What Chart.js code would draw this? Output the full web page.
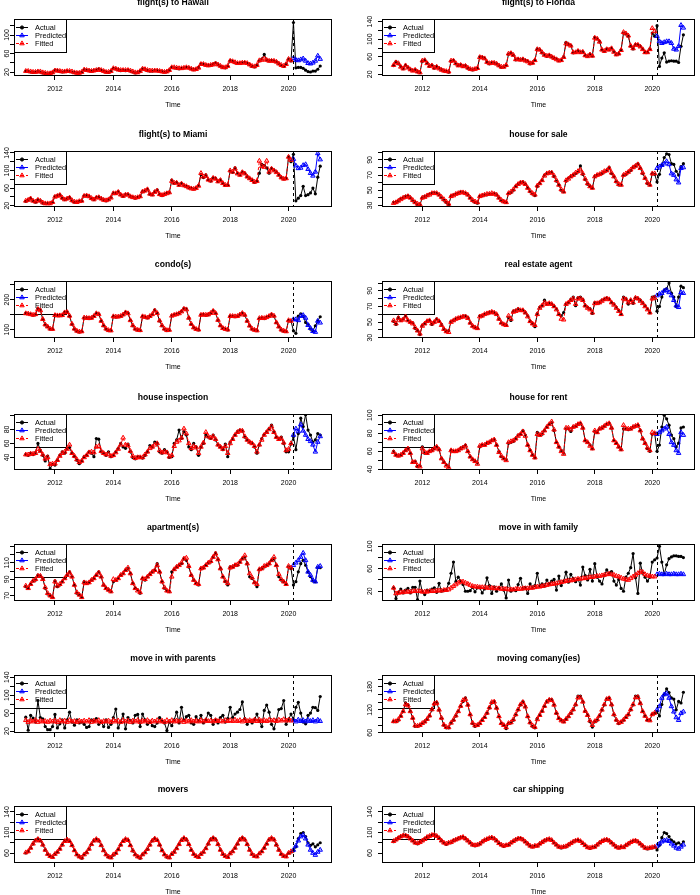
<!DOCTYPE html>
<html>
<head>
<meta charset="utf-8">
<script src="https://cdn.jsdelivr.net/npm/chart.js@4.4.1/dist/chart.umd.min.js"></script>
<style>
  html, body { margin: 0; padding: 0; background: #fff; }
  body { width: 700px; height: 895px; position: relative; overflow: hidden; }
  .panel { position: absolute; }
</style>
</head>
<body>
<script>
// monthly series, Jan 2011 .. Feb 2021 (actual), Jan 2011 .. Feb 2020 (fitted), Mar 2020 .. Feb 2021 (predicted)
var startYear = 2011;
var forecastStart = 110;            // index of Mar 2020
var xTickYears = [2012, 2014, 2016, 2018, 2020];

var hawaiiActual = [
  22,21,20,19,20,21,20,18,17,16,17,19,
  24,23,21,20,21,22,21,20,19,18,18,20,
  25,24,23,22,23,24,27,24,22,20,19,22,
  28,27,25,23,24,23,24,22,20,18,19,22,
  27,25,23,22,22,23,23,22,21,20,21,24,
  30,29,28,27,28,29,30,29,27,25,26,30,
  38,37,35,34,35,37,40,36,33,30,29,33,
  45,43,40,39,39,40,41,39,36,32,31,35,
  44,48,58,46,44,45,44,42,38,34,32,38,
  48,44,127,29,30,30,28,24,21,20,22,22,
  26,33];
var hawaiiFitted = [
  22,22,21,20,20,21,21,19,18,17,17,19,
  23,23,22,21,21,22,22,21,19,18,18,20,
  25,24,23,22,23,24,25,24,22,20,20,22,
  28,27,25,24,24,24,24,23,21,19,19,22,
  27,26,24,23,23,23,23,22,21,20,21,24,
  30,30,29,28,28,29,30,29,27,25,26,29,
  37,37,35,34,35,36,38,36,33,30,30,33,
  44,43,41,39,39,40,40,39,36,33,32,35,
  45,46,49,46,44,44,44,42,38,35,33,37,
  48,45];
var hawaiiPredicted = [50,46,45,47,49,44,39,38,40,44,55,48];

var floridaActual = [
  40,49,44,38,33,41,36,31,29,31,26,24,
  50,53,46,38,41,34,38,34,31,28,27,25,
  50,52,44,40,42,38,40,34,32,30,32,34,
  60,59,57,48,44,47,46,44,40,36,37,40,
  66,69,64,53,55,53,55,52,50,44,46,52,
  78,76,69,65,61,64,60,57,55,51,52,60,
  93,88,86,69,70,74,70,72,63,61,66,62,
  104,101,95,76,72,78,76,80,72,65,67,76,
  114,112,107,84,78,88,88,84,78,70,70,78,
  114,107,131,38,57,69,48,50,51,50,50,47,
  84,110];
var floridaFitted = [
  41,47,45,37,33,40,35,31,28,30,26,24,
  51,52,45,39,40,35,37,33,30,28,27,26,
  51,51,45,40,41,38,39,35,32,31,32,34,
  59,58,56,48,45,46,46,44,40,37,37,41,
  67,68,64,54,54,53,54,51,49,45,46,52,
  77,76,70,64,62,63,60,57,54,51,52,59,
  90,88,85,70,70,73,70,71,63,61,65,62,
  103,101,94,76,73,77,76,79,71,65,67,75,
  116,113,108,85,79,87,87,83,77,70,70,77,
  125,118];
var floridaPredicted = [107,95,91,93,95,95,91,78,76,84,132,126];

var miamiActual = [
  30,33,37,31,28,34,31,26,25,25,25,28,
  41,43,45,37,34,36,39,31,28,28,30,31,
  43,43,41,36,34,39,40,36,33,31,34,39,
  49,48,52,45,41,45,46,41,39,37,39,41,
  52,54,58,46,45,52,56,46,43,46,49,50,
  78,71,73,67,71,66,64,61,60,58,61,66,
  91,84,90,79,76,84,82,75,79,71,66,67,
  99,96,106,94,90,97,94,86,82,79,73,76,
  94,114,112,106,94,105,101,97,90,84,81,82,
  131,120,137,31,37,43,64,43,45,49,60,47,
  85,110];
var miamiFitted = [
  31,33,36,31,29,33,31,27,25,25,25,28,
  40,42,44,38,34,36,38,32,29,28,30,31,
  42,43,41,37,34,38,39,36,33,32,34,38,
  48,48,51,45,42,45,45,41,39,38,39,41,
  52,54,57,47,45,51,54,46,44,46,48,50,
  76,72,72,67,70,66,64,61,59,58,60,65,
  94,86,88,79,77,83,81,75,78,71,67,67,
  100,97,104,93,90,96,93,86,82,78,74,76,
  122,110,108,122,97,104,100,96,90,84,81,82,
  131,124];
var miamiPredicted = [126,111,105,106,112,114,103,94,88,97,139,125];

var saleActual = [
  34,34,36,39,40,42,43,40,36,34,31,31,
  40,42,43,45,46,47,46,44,40,37,34,31,
  42,44,45,46,48,47,46,44,40,36,34,33,
  42,43,44,44,45,45,46,44,40,36,35,34,
  46,47,50,55,58,60,61,58,53,48,45,43,
  55,59,63,70,72,73,74,68,62,57,50,48,
  62,66,68,70,72,74,82,71,64,58,55,53,
  68,70,71,72,74,76,80,72,68,61,57,57,
  70,71,74,76,80,82,85,79,72,66,59,57,
  72,71,61,71,83,93,98,97,85,84,75,70,
  81,85];
var saleFitted = [
  33,34,36,38,40,41,42,40,37,34,32,31,
  40,41,43,44,46,46,46,44,41,38,35,32,
  42,43,45,46,47,47,46,44,40,37,35,34,
  42,43,44,45,45,46,45,44,40,37,35,34,
  46,48,51,55,58,60,60,58,53,49,46,44,
  56,59,63,69,72,73,73,69,63,57,51,48,
  63,65,68,70,73,75,77,72,65,59,55,53,
  68,70,71,73,75,76,79,73,68,62,58,57,
  70,72,74,77,80,82,84,79,73,66,60,57,
  72,72];
var salePredicted = [79,81,83,85,88,84,72,70,64,60,79,80];

var condoActual = [
  155,153,152,148,150,171,166,134,116,110,102,102,
  147,147,147,147,158,159,145,118,102,95,92,94,
  139,139,137,139,145,155,152,129,113,102,97,97,
  145,142,143,145,150,158,155,131,113,102,99,97,
  145,142,139,145,150,166,155,129,113,102,97,99,
  147,150,152,155,161,171,169,139,118,107,102,99,
  150,150,148,150,155,163,155,131,113,105,102,99,
  145,145,143,145,150,155,148,129,113,102,99,97,
  137,139,137,142,145,150,145,123,110,99,95,94,
  131,129,96,88,145,153,145,124,118,102,97,113,
  129,143];
var condoFitted = [
  154,153,151,149,151,168,164,135,117,110,103,102,
  148,147,147,148,157,158,146,119,103,96,93,94,
  140,139,138,139,145,154,151,129,114,103,98,97,
  144,143,143,145,150,157,154,131,114,103,99,98,
  144,142,140,145,151,163,155,130,114,103,98,99,
  146,149,151,154,160,169,167,139,119,107,102,100,
  149,150,149,150,155,162,155,132,114,105,102,100,
  145,145,144,145,150,155,149,129,113,103,99,97,
  138,139,138,141,145,150,146,124,110,100,96,94,
  131,129];
var condoPredicted = [134,134,131,145,148,139,115,105,95,92,129,123];

var agentActual = [
  51,47,56,52,54,58,52,50,49,42,39,34,
  46,48,51,52,47,50,54,51,47,41,38,39,
  51,52,54,55,56,57,58,56,49,45,43,42,
  58,58,60,61,62,63,62,60,54,49,47,46,
  56,52,64,65,67,65,65,62,58,51,48,44,
  61,69,71,78,73,74,73,70,67,60,58,62,
  73,75,79,82,71,81,82,79,71,69,67,61,
  75,74,75,78,79,81,79,75,73,69,65,60,
  82,80,73,78,74,81,80,78,75,71,67,62,
  82,83,64,70,82,91,93,100,87,82,70,82,
  96,94];
var agentFitted = [
  52,48,55,52,53,57,52,50,48,43,39,35,
  45,48,51,52,48,50,53,51,46,41,38,37,
  50,52,54,55,56,57,57,55,49,45,43,42,
  57,58,60,61,62,63,62,60,54,49,47,46,
  58,54,63,64,66,65,65,62,57,51,48,46,
  60,68,71,75,73,74,73,70,66,60,54,53,
  73,75,78,80,73,80,80,78,71,68,66,62,
  74,74,75,77,79,80,79,75,72,68,64,60,
  80,79,75,78,75,81,80,77,74,70,66,62,
  80,81];
var agentPredicted = [84,86,87,90,91,88,84,78,71,69,88,87];

var inspectionActual = [
  44,43,46,44,47,60,50,43,35,42,24,30,
  29,36,43,48,46,53,54,46,41,36,31,35,
  41,43,48,46,41,67,66,48,46,43,48,41,
  43,48,53,60,55,53,59,48,40,38,41,40,
  39,43,48,57,55,62,60,48,46,51,48,40,
  41,60,65,79,67,77,72,55,51,60,55,43,
  55,60,72,69,67,72,65,58,55,51,59,41,
  62,67,72,77,79,78,69,65,62,60,55,46,
  58,67,73,77,81,86,77,69,67,69,60,48,
  48,59,70,51,74,96,84,101,79,72,62,65,
  74,72];
var inspectionFitted = [
  44,44,45,45,46,52,49,44,38,40,30,31,
  31,36,42,46,48,52,58,46,42,37,33,35,
  40,43,47,48,47,55,56,49,46,44,45,42,
  43,47,52,58,68,58,57,49,42,39,40,40,
  40,44,48,53,55,58,60,50,47,48,47,41,
  43,56,62,64,68,81,74,60,53,56,54,46,
  55,61,76,70,68,70,66,58,55,52,56,46,
  60,66,72,76,78,78,70,65,62,60,56,48,
  58,65,72,76,80,84,76,69,66,67,61,50,
  52,60];
var inspectionPredicted = [72,81,77,87,78,72,66,63,58,48,62,70];

var rentActual = [
  60,56,55,56,58,61,63,58,48,49,43,44,
  65,58,58,60,61,63,65,62,52,48,45,43,
  61,60,60,61,63,65,67,60,54,51,49,47,
  65,67,67,69,70,72,73,67,60,54,52,51,
  69,70,71,74,78,79,83,78,67,61,56,53,
  81,78,79,83,87,90,92,83,70,65,61,58,
  85,85,82,87,88,90,91,86,72,70,67,63,
  82,81,85,86,88,90,91,86,72,69,65,62,
  85,85,84,85,87,88,89,83,74,69,63,60,
  79,80,60,67,87,100,96,89,78,74,65,69,
  86,87];
var rentFitted = [
  59,56,55,56,58,61,63,58,48,48,44,43,
  63,59,58,60,61,63,65,62,52,48,44,42,
  61,60,60,61,63,64,66,60,54,51,49,46,
  66,67,67,69,70,72,73,67,59,55,52,50,
  70,71,72,74,77,79,82,77,67,61,56,53,
  79,78,80,83,87,90,93,84,70,65,60,57,
  86,86,84,87,88,90,91,86,72,70,66,63,
  83,81,85,86,88,90,91,86,72,69,65,62,
  89,85,85,85,87,88,89,83,74,69,64,61,
  81,80];
var rentPredicted = [79,81,83,85,87,79,70,67,61,58,81,78];

var apartmentActual = [
  81,79,84,88,89,95,94,91,79,72,70,68,
  88,81,83,87,91,95,99,93,83,73,71,68,
  87,85,86,89,91,95,99,93,83,79,77,75,
  87,89,91,95,97,101,103,97,85,79,77,73,
  91,89,93,96,99,101,109,99,87,79,76,75,
  99,102,105,107,109,115,113,105,95,89,85,83,
  103,104,107,110,111,117,122,114,103,93,87,83,
  105,105,107,107,111,115,117,109,93,91,86,81,
  102,103,105,107,109,113,115,107,93,89,87,84,
  105,103,83,87,99,109,113,107,99,93,88,87,
  104,104];
var apartmentFitted = [
  82,79,84,88,90,94,94,90,80,73,70,68,
  87,82,84,87,91,95,98,93,83,74,71,68,
  86,85,86,89,91,95,98,93,83,79,77,75,
  90,89,91,95,97,101,104,97,85,79,76,74,
  91,90,93,96,99,101,107,99,87,80,76,75,
  93,102,105,107,110,115,116,106,95,89,85,84,
  103,104,107,110,112,117,121,114,103,93,88,85,
  104,105,107,108,111,115,119,109,97,92,86,84,
  102,103,106,107,109,113,117,107,96,90,87,84,
  106,104];
var apartmentPredicted = [107,110,113,117,122,113,99,95,89,87,105,106];

var familyActual = [
  26,7,18,24,17,22,25,17,27,27,5,38,
  19,14,22,20,24,26,18,34,20,21,22,34,
  52,72,37,45,38,32,20,20,21,27,19,26,
  26,17,24,44,30,16,28,20,26,33,22,8,
  40,20,23,21,32,43,24,27,16,33,26,30,
  52,30,33,29,40,33,38,41,22,47,30,38,
  54,36,50,43,37,41,31,63,48,40,59,38,
  69,45,38,33,48,58,52,55,38,31,41,25,
  20,45,52,62,87,44,16,70,52,45,38,45,
  72,76,79,100,72,50,67,78,81,83,83,82,
  82,80];
var familyFitted = [
  26,16,17,18,18,19,19,19,20,20,20,20,
  19,19,19,20,20,20,21,21,21,22,22,23,
  26,29,32,35,37,37,35,33,31,29,28,28,
  27,27,27,26,26,26,25,25,25,24,24,24,
  23,23,23,24,24,24,25,25,25,26,26,27,
  28,28,29,30,31,32,33,33,34,35,36,37,
  38,39,39,40,41,42,42,43,43,44,45,45,
  46,47,47,48,49,50,51,50,49,47,46,44,
  42,41,40,43,46,49,52,55,54,50,48,47,
  46,46];
var familyPredicted = [50,51,50,50,51,50,50,51,50,50,51,50];

var parentsActual = [
  51,22,55,49,40,88,50,47,30,23,23,30,
  57,27,36,45,27,45,62,40,33,45,38,40,
  35,28,30,45,42,48,35,40,30,45,28,35,
  50,69,27,40,58,25,50,44,38,55,57,30,
  58,45,35,40,32,30,38,50,42,38,21,40,
  32,45,62,38,73,44,52,55,38,35,52,42,
  55,38,45,60,55,35,45,38,50,55,40,48,
  73,50,58,62,68,85,48,35,42,38,45,58,
  42,30,66,78,62,35,25,45,68,70,88,35,
  45,58,45,73,84,60,40,36,55,60,73,72,
  66,97];
var parentsFitted = [
  44,40,43,41,44,40,43,41,42,40,43,41,
  43,40,44,41,43,40,44,41,42,40,43,41,
  43,41,44,40,43,41,44,40,42,41,43,40,
  44,41,43,40,44,41,43,40,43,41,44,40,
  43,41,44,40,43,41,44,41,43,40,44,41,
  44,41,43,41,44,40,43,41,44,41,43,41,
  44,41,44,42,43,41,44,42,43,41,44,42,
  44,42,45,42,44,41,45,42,44,42,45,42,
  45,42,44,42,45,43,44,42,45,43,46,43,
  45,43];
var parentsPredicted = [44,41,45,42,44,41,45,42,44,41,45,42];

var movingCoActual = [
  89,89,93,104,116,138,133,116,98,77,77,80,
  84,89,95,104,120,136,140,120,98,80,73,73,
  86,93,104,116,129,142,151,133,107,84,77,80,
  84,93,100,111,125,138,142,125,102,84,80,71,
  84,86,93,107,120,133,142,129,102,86,77,73,
  98,107,116,129,142,147,147,133,111,98,93,89,
  95,102,111,120,133,156,156,142,116,107,89,75,
  89,93,104,120,133,149,151,133,107,93,84,89,
  93,100,107,120,133,156,156,138,116,104,93,93,
  109,111,116,104,134,160,175,165,151,148,120,142,
  138,166];
var movingCoFitted = [
  90,90,95,104,116,134,131,116,99,79,78,80,
  85,89,96,105,121,136,138,120,99,81,75,74,
  86,94,105,116,130,145,148,133,108,86,79,80,
  85,93,101,112,126,140,141,125,103,85,80,74,
  85,87,95,108,121,134,140,128,103,87,79,75,
  95,106,117,130,141,146,145,133,112,98,92,89,
  96,103,112,121,134,152,152,141,117,106,92,80,
  90,95,105,120,134,148,150,134,108,94,86,88,
  94,101,108,121,134,152,153,137,116,104,94,92,
  108,112];
var movingCoPredicted = [120,129,151,160,163,151,129,115,100,93,111,115];

var moversActual = [
  60,63,70,78,85,88,84,76,66,58,54,52,
  58,62,68,76,83,86,83,75,65,57,53,50,
  57,61,68,77,84,87,84,75,65,57,52,51,
  56,60,67,76,83,87,85,75,64,57,53,50,
  57,61,67,76,84,88,85,76,65,57,52,51,
  58,62,69,77,85,89,86,77,66,58,54,52,
  58,62,69,78,86,90,87,77,66,58,54,52,
  59,63,70,78,86,90,86,77,66,58,54,53,
  59,63,70,78,86,89,86,76,66,58,54,53,
  60,62,64,72,88,98,100,92,80,75,78,72,
  76,80];
var moversFitted = [
  61,63,70,78,84,87,84,76,66,58,54,52,
  58,62,68,76,83,86,83,75,65,57,53,51,
  57,61,68,77,84,87,84,75,65,57,53,51,
  57,60,67,76,83,87,85,75,65,57,53,51,
  57,61,68,76,84,88,85,76,65,57,53,51,
  58,62,69,77,85,89,86,77,66,58,54,52,
  58,62,69,78,86,89,86,77,66,58,54,52,
  59,63,70,78,86,89,86,77,66,58,54,53,
  59,63,70,78,86,89,86,76,66,58,54,53,
  60,63];
var moversPredicted = [66,74,84,92,95,88,76,66,60,56,62,66];

var carActual = [
  82,86,90,92,94,95,92,88,84,80,78,82,
  84,88,91,93,95,96,93,89,84,80,77,80,
  80,84,86,88,90,91,88,84,80,76,74,76,
  78,82,85,87,89,90,88,84,79,76,73,75,
  76,80,83,86,88,89,86,82,78,74,72,74,
  74,78,81,84,86,87,85,80,76,72,70,72,
  72,76,79,82,84,85,83,79,75,71,69,71,
  72,76,80,83,85,86,84,80,76,72,70,72,
  71,75,78,81,83,84,82,78,74,70,68,70,
  70,72,66,75,90,100,98,92,85,82,78,80,
  76,82];
var carFitted = [
  83,86,89,92,94,94,92,88,84,80,79,81,
  84,87,91,93,95,95,93,89,84,80,78,80,
  81,84,86,88,90,91,88,84,80,76,75,76,
  78,82,85,87,89,90,88,84,79,76,74,75,
  76,80,83,86,88,88,86,82,78,74,72,74,
  74,78,81,84,86,87,85,80,76,72,71,72,
  73,76,79,82,84,85,83,79,75,71,70,71,
  72,76,80,83,85,86,84,80,76,72,70,72,
  71,75,78,81,83,84,82,78,74,70,69,70,
  71,72];
var carPredicted = [74,78,82,84,85,83,78,74,70,68,72,76];

var panels = [
  { title: 'flight(s) to Hawaii', actual: hawaiiActual, fitted: hawaiiFitted, predicted: hawaiiPredicted,
    yMin: 11.4, yMax: 134.6, yTicks: [20,40,60,80,100,120], yLabels: [20,60,100] },
  { title: 'flight(s) to Florida', actual: floridaActual, fitted: floridaFitted, predicted: floridaPredicted,
    yMin: 16.2, yMax: 146.1, yTicks: [20,40,60,80,100,120,140], yLabels: [20,60,100,140] },
  { title: 'flight(s) to Miami', actual: miamiActual, fitted: miamiFitted, predicted: miamiPredicted,
    yMin: 17, yMax: 144.5, yTicks: [20,40,60,80,100,120,140], yLabels: [20,60,100,140] },
  { title: 'house for sale', actual: saleActual, fitted: saleFitted, predicted: salePredicted,
    yMin: 27.9, yMax: 101.7, yTicks: [30,40,50,60,70,80,90,100], yLabels: [30,50,70,90] },
  { title: 'condo(s)', actual: condoActual, fitted: condoFitted, predicted: condoPredicted,
    yMin: 72.3, yMax: 261.8, yTicks: [100,150,200,250], yLabels: [100,200] },
  { title: 'real estate agent', actual: agentActual, fitted: agentFitted, predicted: agentPredicted,
    yMin: 29.6, yMax: 102.6, yTicks: [30,40,50,60,70,80,90,100], yLabels: [30,50,70,90] },
  { title: 'house inspection', actual: inspectionActual, fitted: inspectionFitted, predicted: inspectionPredicted,
    yMin: 22, yMax: 102, yTicks: [40,60,80,100], yLabels: [40,60,80] },
  { title: 'house for rent', actual: rentActual, fitted: rentFitted, predicted: rentPredicted,
    yMin: 39.3, yMax: 101.4, yTicks: [40,50,60,70,80,90,100], yLabels: [40,60,80,100] },
  { title: 'apartment(s)', actual: apartmentActual, fitted: apartmentFitted, predicted: apartmentPredicted,
    yMin: 63.5, yMax: 132.9, yTicks: [70,80,90,100,110,120,130], yLabels: [70,90,110] },
  { title: 'move in with family', actual: familyActual, fitted: familyFitted, predicted: familyPredicted,
    yMin: 2.6, yMax: 104.1, yTicks: [20,40,60,80,100], yLabels: [20,60,100] },
  { title: 'move in with parents', actual: parentsActual, fitted: parentsFitted, predicted: parentsPredicted,
    yMin: 15.6, yMax: 145, yTicks: [20,40,60,80,100,120,140], yLabels: [20,60,100,140] },
  { title: 'moving comany(ies)', actual: movingCoActual, fitted: movingCoFitted, predicted: movingCoPredicted,
    yMin: 59.5, yMax: 211, yTicks: [60,80,100,120,140,160,180,200], yLabels: [60,120,180] },
  { title: 'movers', actual: moversActual, fitted: moversFitted, predicted: moversPredicted,
    yMin: 40.5, yMax: 151.7, yTicks: [60,80,100,120,140], yLabels: [60,100,140] },
  { title: 'car shipping', actual: carActual, fitted: carFitted, predicted: carPredicted,
    yMin: 40.5, yMax: 151.7, yTicks: [60,80,100,120,140], yLabels: [60,100,140] }
];

// layout of the R grid (pixels)
var rowBoxTop = [19, 151, 281, 414, 544, 675, 806];
var rowBoxH = [57, 56, 57, 56, 57, 58, 57];
var FONT = '"Liberation Sans", Arial, Helvetica, sans-serif';
var TITLE_H = 21, XAXIS_H = 36;

var measure = document.createElement('canvas').getContext('2d');
measure.font = '7px ' + FONT;
function widest(labels) {
  return Math.max.apply(null, labels.map(function (v) { return measure.measureText(String(v)).width; }));
}

function toPoints(vals, offset) {
  return vals.map(function (v, i) { return { x: startYear + (offset + i) / 12, y: v }; });
}

// box round the plot region
var framePlugin = {
  id: 'frame',
  afterDatasetsDraw: function (chart) {
    var a = chart.chartArea, ctx = chart.ctx;
    ctx.save();
    ctx.strokeStyle = '#000';
    ctx.lineWidth = 1;
    ctx.strokeRect(Math.round(a.left) + 0.5, Math.round(a.top) + 0.5,
      Math.round(a.right - a.left) - 1, Math.round(a.bottom - a.top) - 1);
    ctx.restore();
  }
};

// dashed line where the forecast begins
var cutPlugin = {
  id: 'cut',
  afterDatasetsDraw: function (chart) {
    var a = chart.chartArea, ctx = chart.ctx;
    var x = Math.round(chart.scales.x.getPixelForValue(startYear + forecastStart / 12)) + 0.5;
    ctx.save();
    ctx.strokeStyle = '#000';
    ctx.lineWidth = 1;
    ctx.setLineDash([3, 3]);
    ctx.beginPath();
    ctx.moveTo(x, a.top);
    ctx.lineTo(x, a.bottom);
    ctx.stroke();
    ctx.restore();
  }
};

// R style legend in the top-left corner
var legendItems = [
  { text: 'Actual', color: '#000000', fill: '#000000', style: 'circle', r: 1.6, dash: [] },
  { text: 'Predicted', color: '#0000ff', fill: 'rgba(0,0,255,0.3)', style: 'triangle', r: 2.6, dash: [] },
  { text: 'Fitted', color: '#ff0000', fill: 'rgba(255,0,0,0.3)', style: 'triangle', r: 2.6, dash: [3, 2] }
];
var legendPlugin = {
  id: 'rlegend',
  beforeDatasetsDraw: function (chart) {
    var a = chart.chartArea, ctx = chart.ctx;
    var x = Math.round(a.left), y = Math.round(a.top);
    ctx.save();
    ctx.strokeStyle = '#000';
    ctx.lineWidth = 1;
    ctx.strokeRect(x + 0.5, y + 0.5, 52, 33);
    legendItems.forEach(function (it, i) {
      var yy = y + 8.5 + i * 8;
      ctx.strokeStyle = it.color;
      ctx.setLineDash(it.dash);
      ctx.beginPath();
      ctx.moveTo(x + 2, yy);
      ctx.lineTo(x + 14, yy);
      ctx.stroke();
      ctx.setLineDash([]);
      ctx.fillStyle = it.fill;
      Chart.helpers.drawPoint(ctx, { pointStyle: it.style, radius: it.r, borderWidth: 1, rotation: 0 }, x + 8, yy);
      ctx.fillStyle = '#000';
      ctx.font = '7.4px ' + FONT;
      ctx.textBaseline = 'middle';
      ctx.textAlign = 'left';
      ctx.fillText(it.text, x + 21, yy);
    });
    ctx.restore();
  }
};

panels.forEach(function (p, idx) {
  var row = Math.floor(idx / 2), col = idx % 2;
  var boxLeft = col === 0 ? 14 : 32;
  var boxRight = col === 0 ? 332 : 349;
  var labelGap = col === 0 ? 7 : 12;
  var h = TITLE_H + rowBoxH[row] + XAXIS_H;

  var div = document.createElement('div');
  div.className = 'panel';
  div.style.left = (col * 350) + 'px';
  div.style.top = (rowBoxTop[row] - TITLE_H) + 'px';
  var canvas = document.createElement('canvas');
  canvas.width = 350;
  canvas.height = h;
  canvas.style.width = '350px';
  canvas.style.height = h + 'px';
  div.appendChild(canvas);
  document.body.appendChild(div);

  var yPad = labelGap - 4 - widest(p.yLabels) / 2;

  new Chart(canvas, {
    type: 'line',
    data: {
      datasets: [
        { label: 'Fitted', data: toPoints(p.fitted, 0), order: 1,
          borderColor: '#ff0000', borderWidth: 1, borderDash: [3, 2],
          pointStyle: 'triangle', pointRadius: 2.6, pointBorderWidth: 1,
          pointBorderColor: '#ff0000', pointBackgroundColor: 'rgba(255,0,0,0.2)' },
        { label: 'Predicted', data: toPoints(p.predicted, forecastStart), order: 2,
          borderColor: '#0000ff', borderWidth: 1,
          pointStyle: 'triangle', pointRadius: 2.6, pointBorderWidth: 1,
          pointBorderColor: '#0000ff', pointBackgroundColor: 'rgba(0,0,255,0.2)' },
        { label: 'Actual', data: toPoints(p.actual, 0), order: 3,
          borderColor: '#000000', borderWidth: 1,
          pointStyle: 'circle', pointRadius: 1.6, pointBorderWidth: 0,
          pointBackgroundColor: '#000000' }
      ]
    },
    options: {
      responsive: false,
      animation: false,
      devicePixelRatio: 1,
      events: [],
      layout: { padding: { left: 0, right: 350 - boxRight, top: 0, bottom: 0 } },
      elements: { line: { tension: 0 } },
      plugins: {
        legend: { display: false },
        tooltip: { enabled: false },
        title: {
          display: true, fullSize: false, text: p.title, color: '#000',
          font: { family: FONT, size: 8.6, weight: 'bold', lineHeight: 10 / 8.6 },
          padding: { top: 0, bottom: TITLE_H - 10 }
        }
      },
      scales: {
        x: {
          type: 'linear', min: 2010.597, max: 2021.487,
          afterBuildTicks: function (s) { s.ticks = xTickYears.map(function (v) { return { value: v }; }); },
          afterFit: function (s) { s.height = XAXIS_H; },
          grid: { display: true, drawOnChartArea: false, drawTicks: true, tickLength: 4, color: '#000' },
          border: { display: false },
          ticks: { color: '#000', font: { family: FONT, size: 7 }, padding: 5, maxRotation: 0, autoSkip: false,
            callback: function (v) { return String(v); } },
          title: { display: true, text: 'Time', color: '#000', font: { family: FONT, size: 7 }, padding: { top: 0, bottom: 3 } }
        },
        y: {
          type: 'linear', min: p.yMin, max: p.yMax,
          afterBuildTicks: function (s) { s.ticks = p.yTicks.map(function (v) { return { value: v }; }); },
          afterFit: function (s) { s.width = boxLeft; },
          grid: { display: true, drawOnChartArea: false, drawTicks: true, tickLength: 4, color: '#000' },
          border: { display: false },
          ticks: { color: '#000', font: { family: FONT, size: 7 }, padding: yPad, autoSkip: false,
            minRotation: 90, maxRotation: 90, crossAlign: 'center',
            callback: function (v) { return p.yLabels.indexOf(v) >= 0 ? String(v) : ''; } }
        }
      }
    },
    plugins: [legendPlugin, framePlugin, cutPlugin]
  });
});
</script>
</body>
</html>
